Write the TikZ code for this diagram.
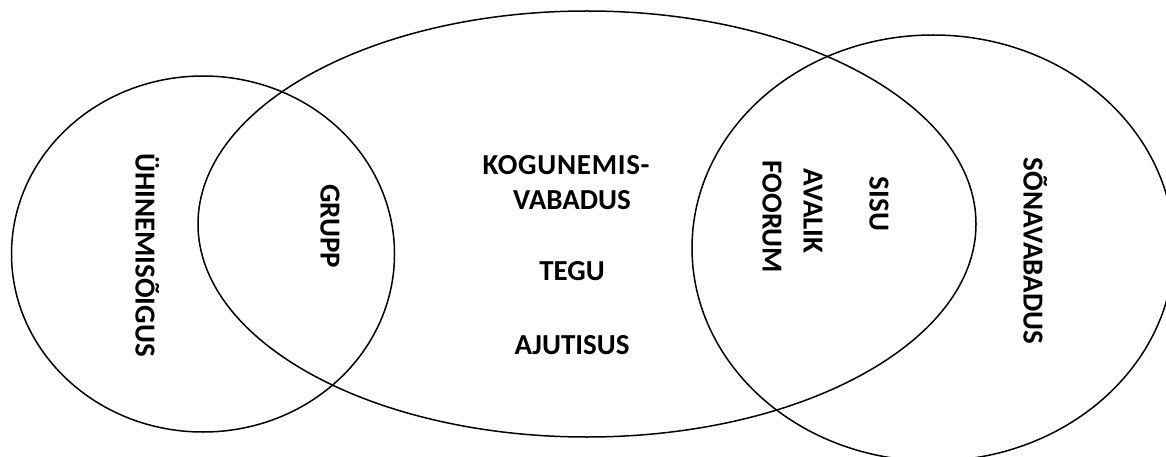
\documentclass[tikz,border=0pt]{standalone}
\usepackage{fontspec}
\setmainfont{Carlito}
\usetikzlibrary{shapes.geometric}
\tikzset{
  set/.style={draw=black, line width=1.5pt, ellipse, inner sep=0pt, outer sep=0pt},
  lbl/.style={font=\fontsize{29}{35}\selectfont\bfseries, inner sep=0pt, align=center},
  vlbl/.style={lbl, rotate=-90, text height=18.7pt, text depth=0pt},
  hlbl/.style={lbl, text height=18.7pt, text depth=0pt}
}
\begin{document}
\begin{tikzpicture}[x=1pt, y=-1pt]
\useasboundingbox (0,0) rectangle (1166,457);
\fill[white] (0,0) rectangle (1166,457);
% sets
\node[set, minimum width=383pt, minimum height=356pt] (left) at (203,254) {};
\node[set, minimum width=778pt, minimum height=426pt] (mid) at (587,224) {};
\node[set, minimum width=482pt, minimum height=426pt] (right) at (933,248) {};
% labels
\node[vlbl] (uhin) at (145,255) {ÜHINEMISÕIGUS};
\node[vlbl] (grupp) at (330,226) {GRUPP};
\node[hlbl] (kog) at (566,165) {\addfontfeature{LetterSpace=2.5}KOGUNEMIS-};
\node[hlbl] (vaba) at (572,200) {VABADUS};
\node[hlbl] (tegu) at (572,271) {TEGU};
\node[hlbl] (ajut) at (572,345) {AJUTISUS};
\node[vlbl] (foorum) at (772,217) {FOORUM};
\node[vlbl] (avalik) at (813,211) {AVALIK};
\node[vlbl] (sisu) at (879,204) {SISU};
\node[vlbl] (sona) at (1033,251) {SÕNAVABADUS};
\end{tikzpicture}
\end{document}
